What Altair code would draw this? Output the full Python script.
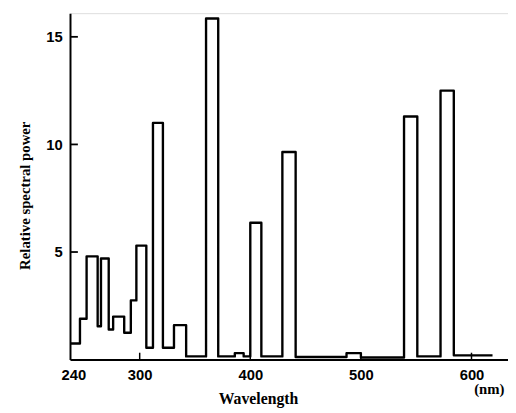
import altair as alt
import pandas as pd

# Step edges (nm) and relative spectral power of each band
wavelength = [237, 246, 252, 262, 265, 272, 276, 286, 292, 297, 306, 312, 321, 331, 342,
              360, 371, 386, 394, 400, 410, 429, 441, 487, 500, 539, 551, 572, 584, 619]
power = [0.75, 1.9, 4.8, 1.55, 4.7, 1.4, 2.0, 1.25, 2.75, 5.3, 0.55, 11.0, 0.55, 1.6, 0.15,
         15.85, 0.15, 0.3, 0.15, 6.36, 0.15, 9.65, 0.12, 0.3, 0.1, 11.3, 0.15, 12.5, 0.2, 0.2]

x_ticks = [240, 300, 400, 500, 600]
x_inner_ticks = [300, 400, 500, 600]
y_ticks = [5, 10, 15]

df = pd.DataFrame({"wavelength": wavelength, "power": power})
df_xt = pd.DataFrame({"t": x_inner_ticks})
df_yt = pd.DataFrame({"t": y_ticks})

SERIF = "Liberation Serif"
NUM = "Liberation Sans"

xscale = alt.Scale(domain=[237, 633], nice=False, zero=False)
yscale = alt.Scale(domain=[0, 16.1], nice=False)

line = alt.Chart(df).mark_line(
    interpolate="step-after", color="black", strokeWidth=2.4, strokeJoin="round"
).encode(
    x=alt.X("wavelength:Q", scale=xscale,
            axis=alt.Axis(values=x_ticks, title="Wavelength", ticks=False,
                          labelPadding=8, labelFont=NUM, labelFontSize=15,
                          labelFontWeight="bold", labelColor="black",
                          titleFont=SERIF, titleFontSize=16, titleFontWeight="bold",
                          titleColor="black", titleX=191, titleY=32,
                          titleBaseline="top", titleAlign="center",
                          domainColor="black", domainWidth=2, grid=False)),
    y=alt.Y("power:Q", scale=yscale,
            axis=alt.Axis(values=y_ticks, title="Relative spectral power", ticks=False,
                          labelPadding=8, labelFont=NUM, labelFontSize=15,
                          labelFontWeight="bold", labelColor="black",
                          titleFont=SERIF, titleFontSize=15, titleFontWeight="bold",
                          titleColor="black", titlePadding=13, titleY=185,
                          titleAlign="center",
                          domainColor="black", domainWidth=2, grid=False)),
)

yt = alt.Chart(df_yt).mark_rule(color="black", strokeWidth=1.8).encode(
    y=alt.Y("t:Q", scale=yscale),
    x=alt.value(0), x2=alt.value(8),
)

xt = alt.Chart(df_xt).mark_rule(color="black", strokeWidth=1.5).encode(
    x=alt.X("t:Q", scale=xscale),
    y=alt.value(352), y2=alt.value(345),
)

nm = alt.Chart(pd.DataFrame({"s": ["(nm)"]})).mark_text(
    font=SERIF, fontSize=15, fontWeight="bold", color="black", align="center", baseline="middle"
).encode(x=alt.value(426), y=alt.value(382), text="s:N")

chart = alt.layer(line, yt, xt, nm).properties(
    width=445, height=352,
    autosize=alt.AutoSizeParams(type="none"),
    padding={"left": 63, "top": 2, "right": 0, "bottom": 51},
).configure_view(stroke=None).configure(background="white")

chart.save("out.html", embed_options={"renderer": "svg", "actions": False})
